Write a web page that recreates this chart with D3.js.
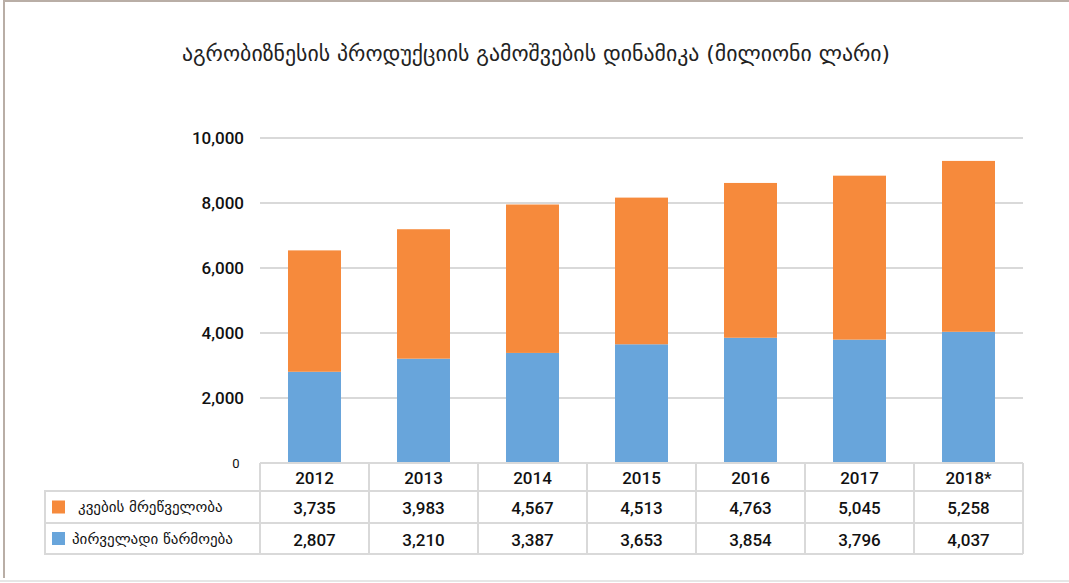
<!DOCTYPE html>
<html><head><meta charset="utf-8">
<script src="https://cdn.jsdelivr.net/npm/d3@7"></script>
<style>body{margin:0;background:#fff}svg{display:block}</style>
</head><body>
<svg id="c" width="1069" height="583"></svg>
<script>
const title = "აგრობიზნესის პროდუქციის გამოშვების დინამიკა (მილიონი ლარი)";
const years = ["2012","2013","2014","2015","2016","2017","2018*"];
const seriesNames = ["კვების მრეწველობა","პირველადი წარმოება"];
const food = [3735,3983,4567,4513,4763,5045,5258];
const primary = [2807,3210,3387,3653,3854,3796,4037];
const yTicks = [0,2000,4000,6000,8000,10000];
const colors = {food:"#F68A3C", primary:"#68A5DB"};

const svg = d3.select("#c");
const L=260, R=1023, T=138, B=463;
const x = d3.scaleBand().domain(years).range([L,R]).paddingInner(0.514).paddingOuter(0.257);
const y = d3.scaleLinear().domain([0,10000]).range([B,T]);
const fmt = d3.format(",");

// frame
svg.append("rect").attr("x",3).attr("y",0).attr("width",1066).attr("height",2).attr("fill","#b9aea6");
svg.append("rect").attr("x",3).attr("y",0).attr("width",2).attr("height",578).attr("fill","#b9aea6");
svg.append("rect").attr("x",0).attr("y",580).attr("width",1069).attr("height",2).attr("fill","#e6e6e6");

svg.append("text").attr("x",536).attr("y",61).attr("text-anchor","middle")
  .attr("font-family","DejaVu Sans, sans-serif").attr("font-size",21.8).attr("fill","#222").text(title);

// grid
svg.append("g").selectAll("line").data(yTicks.filter(d=>d>0)).join("line")
  .attr("x1",L).attr("x2",R).attr("y1",d=>y(d)).attr("y2",d=>y(d))
  .attr("stroke","#d9d9d9").attr("stroke-width",2);

// tick labels
svg.append("g").selectAll("text").data(yTicks).join("text")
  .attr("x",d=>d===0?236:244).attr("y",d=>y(d)).attr("dy","0.36em")
  .attr("text-anchor",d=>d===0?"middle":"end")
  .attr("font-family","Roboto, sans-serif")
  .attr("font-size",d=>d===0?13:17).attr("font-weight",d=>d===0?400:500)
  .attr("fill","#111").text(d=>fmt(d));

// bars
const stack = years.map((yr,i)=>({yr, p:primary[i], f:food[i]}));
const g = svg.append("g");
g.selectAll(".p").data(stack).join("rect")
  .attr("x",d=>x(d.yr)).attr("width",x.bandwidth())
  .attr("y",d=>y(d.p)).attr("height",d=>y(0)-y(d.p)).attr("fill",colors.primary);
g.selectAll(".f").data(stack).join("rect")
  .attr("x",d=>x(d.yr)).attr("width",x.bandwidth())
  .attr("y",d=>y(d.p+d.f)).attr("height",d=>y(d.p)-y(d.p+d.f)).attr("fill",colors.food);

// table
const rowsY = [463, 491, 523, 554];
const step = x.step();
const tb = svg.append("g");
const lineC = "#d9d9d9";
tb.append("line").attr("x1",L).attr("x2",R).attr("y1",rowsY[0]).attr("y2",rowsY[0]).attr("stroke",lineC).attr("stroke-width",2);
[1,2,3].forEach(k=>tb.append("line").attr("x1",44).attr("x2",R).attr("y1",rowsY[k]).attr("y2",rowsY[k]).attr("stroke",lineC).attr("stroke-width",2));
tb.append("line").attr("x1",45).attr("x2",45).attr("y1",rowsY[1]).attr("y2",rowsY[3]).attr("stroke",lineC).attr("stroke-width",2);
years.concat(["end"]).forEach((d,i)=>{
  const xx = L+i*step;
  tb.append("line").attr("x1",xx).attr("x2",xx).attr("y1",rowsY[0]).attr("y2",rowsY[3]).attr("stroke",lineC).attr("stroke-width",2);
});
tb.selectAll(".yr").data(years).join("text")
  .attr("x",d=>x(d)+x.bandwidth()/2).attr("y",(rowsY[0]+rowsY[1])/2+1).attr("dy","0.36em")
  .attr("text-anchor","middle").attr("font-family","Roboto, sans-serif").attr("font-size",17).attr("font-weight",500)
  .attr("fill","#111").text(d=>d);
const rows = [{name:seriesNames[0], vals:food, c:colors.food, lx:78},{name:seriesNames[1], vals:primary, c:colors.primary, lx:72}];
rows.forEach((r,k)=>{
  const cy = (rowsY[k+1]+rowsY[k+2])/2;
  tb.append("rect").attr("x",52).attr("y",cy-6.5).attr("width",13).attr("height",13).attr("fill",r.c);
  tb.append("text").attr("x",r.lx).attr("y",cy).attr("dy","0.36em")
    .attr("font-family","DejaVu Sans, sans-serif").attr("font-size",15).attr("fill","#111").text(r.name);
  tb.selectAll(null).data(r.vals).join("text")
    .attr("x",(d,i)=>x(years[i])+x.bandwidth()/2).attr("y",cy+1).attr("dy","0.36em")
    .attr("text-anchor","middle").attr("font-family","Roboto, sans-serif").attr("font-size",17).attr("font-weight",500)
    .attr("fill","#111").text(d=>fmt(d));
});
</script>
</body></html>
